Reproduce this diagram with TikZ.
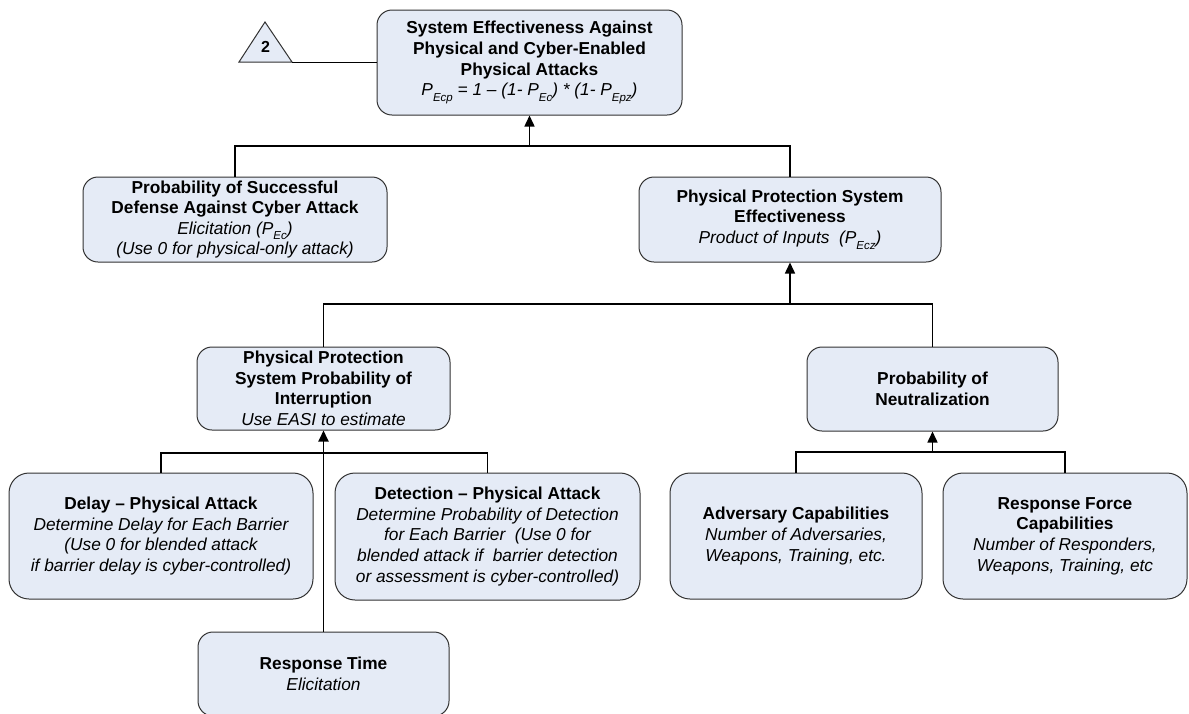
\documentclass[tikz,border=0pt]{standalone}
\usepackage{fontspec}
\setmainfont{Liberation Sans}
\usetikzlibrary{arrows.meta}
\definecolor{boxfill}{RGB}{229,235,246}
\definecolor{boxline}{RGB}{50,50,50}
\newcommand\lowsub[1]{\raisebox{-0.32em}{\fontsize{11.5}{12}\selectfont #1}}
\begin{document}
\begin{tikzpicture}[x=1pt,y=-1pt,
  box/.style={draw=boxline,line width=1pt,fill=boxfill,rounded corners=15pt,
    inner sep=0pt,align=center,font=\fontsize{17.3}{20.6}\selectfont},
  link/.style={line width=1.5pt,black},
  uparrow/.style={link,-{Triangle[length=11pt,width=10pt]}}]
\useasboundingbox (0,0) rectangle (1189,713);

% top level
\node[box,minimum width=305pt,minimum height=105pt] (top) at (529.5,62.5)
  {\bfseries System Effectiveness Against\\\bfseries Physical and Cyber-Enabled\\\bfseries Physical Attacks\\
   \itshape P\lowsub{Ecp} = 1 -- (1- P\lowsub{Ec}) * (1- P\lowsub{Epz})};

% off-page connector triangle
\filldraw[fill=boxfill,draw=boxline,line width=1pt] (239,62) -- (265,22) -- (292,62) -- cycle;
\node[font=\fontsize{16}{18}\selectfont\bfseries] (tri) at (265.5,47) {2};
\coordinate (tricorner) at (292,62.5);
\draw[link,line width=1.2pt] (tricorner) -- (top.west);

% second level
\node[box,minimum width=304pt,minimum height=85pt] (cyber) at (235,219.5)
  {\bfseries Probability of Successful\\\bfseries Defense Against Cyber Attack\\
   \itshape Elicitation (P\lowsub{Ec})\\\itshape (Use 0 for physical-only attack)};
\node[box,minimum width=302pt,minimum height=85pt] (ppse) at (790,219.5)
  {\bfseries Physical Protection System\\\bfseries Effectiveness\\
   \itshape Product of Inputs\ \ (P\lowsub{Ecz})};

\coordinate (j1) at (529.5,146);
\draw[link] (cyber.north) |- (j1) -| (ppse.north);
\draw[uparrow] (j1) -- (top.south);

% third level
\node[box,minimum width=253pt,minimum height=83pt] (ppsi) at (323.5,388.5)
  {\bfseries Physical Protection\\\bfseries System Probability of\\\bfseries Interruption\\
   \itshape Use EASI to estimate};
\node[box,minimum width=251pt,minimum height=84pt] (neut) at (932.5,389)
  {\bfseries Probability of\\\bfseries Neutralization};

\coordinate (j2) at (790,304);
\draw[link] (ppsi.north) |- (j2) -| (neut.north);
\draw[uparrow] (j2) -- (ppse.south);

% inputs to interruption
\node[box,rounded corners=20pt,minimum width=304pt,minimum height=126pt] (delay) at (161,536)
  {\bfseries Delay -- Physical Attack\\
   \itshape Determine Delay for Each Barrier\\\itshape (Use 0 for blended attack\\
   \itshape if barrier delay is cyber-controlled)};
\node[box,rounded corners=20pt,minimum width=305pt,minimum height=127pt] (detect) at (487.5,536.5)
  {\bfseries Detection -- Physical Attack\\
   \itshape Determine Probability of Detection\\\itshape for Each Barrier\ \ (Use 0 for\\
   \itshape blended attack if\ \ barrier detection\\\itshape or assessment is cyber-controlled)};
\node[box,minimum width=251pt,minimum height=84pt] (rt) at (323.5,674)
  {\bfseries Response Time\\\itshape Elicitation};

\coordinate (j3) at (323.5,453);
\draw[link] (delay.north) |- (j3) -| (detect.north);
\draw[uparrow,line width=1.8pt] (rt.north) -- (ppsi.south);

% inputs to neutralization
\node[box,rounded corners=20pt,minimum width=252pt,minimum height=126pt] (adv) at (796,536)
  {\bfseries Adversary Capabilities\\
   \itshape Number of Adversaries,\\\itshape Weapons, Training, etc.};
\node[box,rounded corners=20pt,minimum width=244pt,minimum height=126pt] (rf) at (1065,536)
  {\bfseries Response Force\\\bfseries Capabilities\\
   \itshape Number of Responders,\\\itshape Weapons, Training, etc};

\coordinate (j4) at (932.5,452);
\draw[link] (adv.north) |- (j4) -| (rf.north);
\draw[uparrow] (j4) -- (neut.south);
\end{tikzpicture}
\end{document}
